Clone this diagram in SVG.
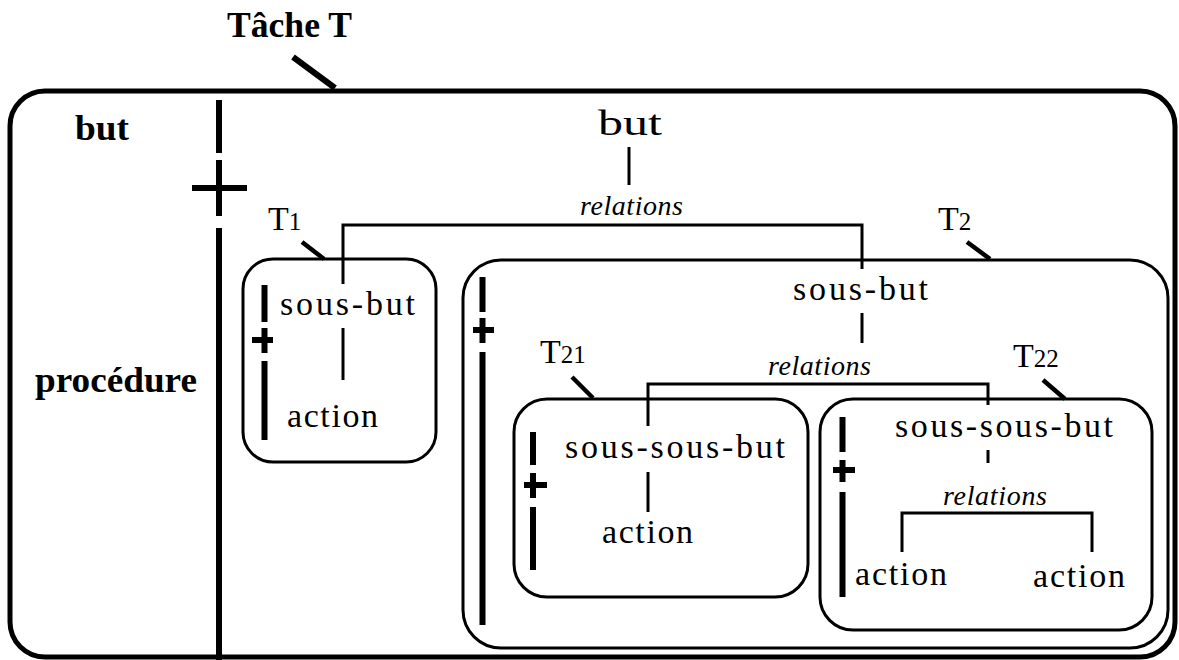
<svg xmlns="http://www.w3.org/2000/svg" width="1179" height="660" viewBox="0 0 1179 660">
<style>
.box{fill:none;stroke:#000;stroke-width:3}
.outer{fill:none;stroke:#000;stroke-width:5}
.bar{stroke:#000;stroke-width:6;fill:none}
.tick{stroke:#000;stroke-width:4.5;fill:none}
.con{stroke:#000;stroke-width:3;fill:none}
.b{font-family:"Liberation Serif","Times New Roman",serif;font-weight:bold;font-size:35px;fill:#000}
.r{font-family:"Liberation Serif","Times New Roman",serif;font-size:34px;fill:#000}
.i{font-family:"Liberation Serif","Times New Roman",serif;font-style:italic;font-size:28px;fill:#000}
.lab{font-family:"Liberation Serif","Times New Roman",serif;font-size:34px;fill:#000}
.sub{font-size:25px}
</style>
<rect width="1179" height="660" fill="#fff"/>
<g id="tache">
<rect class="outer" x="10" y="91" width="1165" height="566" rx="35"/>
<text class="b" x="227" y="37" textLength="125" lengthAdjust="spacingAndGlyphs">Tâche T</text>
<line x1="293" y1="57" x2="335" y2="88" stroke="#000" stroke-width="6"/>
<text class="b" x="75" y="140" textLength="54" lengthAdjust="spacingAndGlyphs">but</text>
<text class="b" x="35" y="392" textLength="162" lengthAdjust="spacingAndGlyphs">procédure</text>
<path class="bar" d="M219,100V153M219,160V216M192,188H247M219,228V660"/>
<text class="r" x="598" y="135" textLength="64" lengthAdjust="spacingAndGlyphs" style="font-size:36px">but</text>
<text class="i" x="580" y="215" textLength="103" lengthAdjust="spacing">relations</text>
</g>
<g id="T1">
<rect class="box" x="243" y="259" width="193" height="203" rx="30"/>
<text class="lab" x="268" y="230">T<tspan class="sub">1</tspan></text>
<line class="tick" x1="302" y1="242" x2="324" y2="259"/>
<path class="bar" d="M264.5,285V322M264.5,328V353M252,340H273M264.5,361V440"/>
<text class="r" x="280" y="315" textLength="135" lengthAdjust="spacing">sous-but</text>
<text class="r" x="287" y="427" textLength="91" lengthAdjust="spacing">action</text>
</g>
<g id="T2">
<rect class="box" x="463" y="260" width="705" height="388" rx="38"/>
<text class="lab" x="938" y="230">T<tspan class="sub">2</tspan></text>
<line class="tick" x1="967" y1="242" x2="990" y2="259"/>
<path class="bar" d="M482.5,277V312M482.5,318V343M473,330H494M482.5,352V625"/>
<text class="r" x="793" y="300" textLength="135" lengthAdjust="spacing">sous-but</text>
<text class="i" x="768" y="375" textLength="103" lengthAdjust="spacing">relations</text>
</g>
<g id="T21">
<rect class="box" x="514" y="399" width="294" height="198" rx="33"/>
<text class="lab" x="540" y="363">T<tspan class="sub">21</tspan></text>
<line class="tick" x1="572" y1="377" x2="593" y2="398"/>
<path class="bar" d="M533,432V465M533,473V498M524,485H547M533,507V570"/>
<text class="r" x="565" y="458" textLength="220" lengthAdjust="spacing">sous-sous-but</text>
<text class="r" x="602" y="543" textLength="91" lengthAdjust="spacing">action</text>
</g>
<g id="T22">
<rect class="box" x="820" y="399" width="332" height="231" rx="33"/>
<text class="lab" x="1013" y="367">T<tspan class="sub">22</tspan></text>
<line class="tick" x1="1043" y1="380" x2="1065" y2="399"/>
<path class="bar" d="M842.5,417V452M842.5,460V482M833,470H855M842.5,492V597"/>
<text class="r" x="895" y="437" textLength="218" lengthAdjust="spacing">sous-sous-but</text>
<text class="i" x="943" y="505" textLength="104" lengthAdjust="spacing">relations</text>
<text class="r" x="855" y="585" textLength="92" lengthAdjust="spacing">action</text>
<text class="r" x="1033" y="587" textLength="92" lengthAdjust="spacing">action</text>
</g>
<g id="connectors">
<line class="con" x1="629" y1="147" x2="629" y2="185"/>
<path class="con" d="M343,284V225H862V269"/>
<line class="con" x1="343" y1="328" x2="343" y2="380"/>
<line class="con" x1="862" y1="313" x2="862" y2="343"/>
<path class="con" d="M648,426V384H988V405"/>
<line class="con" x1="648" y1="472" x2="648" y2="512"/>
<line class="con" x1="988" y1="450" x2="988" y2="463"/>
<path class="con" d="M902,552V513H1092V552"/>
</g>
</svg>
